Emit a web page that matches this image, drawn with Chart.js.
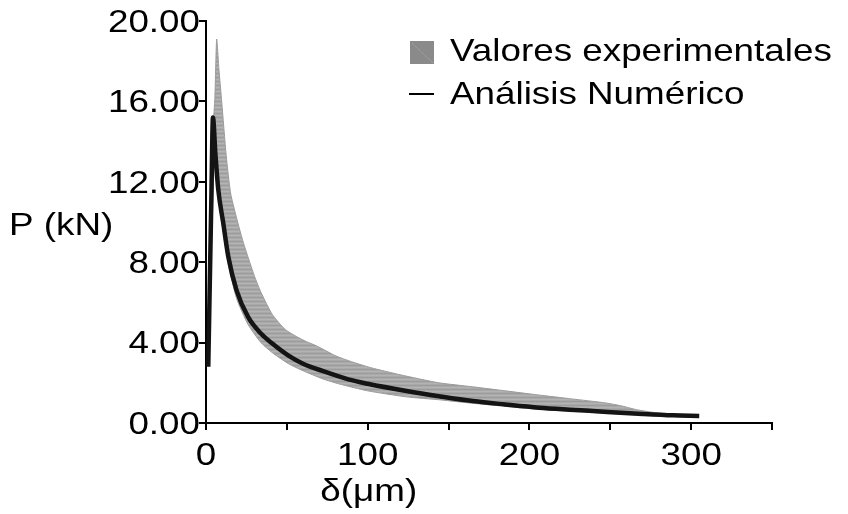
<!DOCTYPE html>
<html><head><meta charset="utf-8">
<script src="https://cdn.jsdelivr.net/npm/chart.js@4"></script>
<style>html,body{margin:0;padding:0;background:#fff;}#wrap{width:848px;height:514px;}</style>
</head><body><div id="wrap"><canvas id="c" width="848" height="514"></canvas></div>
<script>
// ---- data ----
const seriesNames = ['Valores experimentales', 'Análisis Numérico'];
const yTitle = 'P (kN)';
const xTitle = 'δ(μm)';
const yTickValues = [0, 4, 8, 12, 16, 20];
const xTickLabels = [0, 100, 200, 300];

// experimental envelope: rising (left) edge + upper edge
const expUpperX = [1.5, 3.2, 4.5, 5.5, 6.6, 8, 9.7, 12.5, 15.3, 19.9, 23, 26, 30, 34, 41, 49, 56, 62, 68, 80, 90, 102, 120, 144, 165, 185, 205, 226, 247, 257, 267, 288, 302];
const expUpperY = [4.0, 11.0, 14.8, 16.2, 19.1, 17.6, 16.0, 13.3, 11.4, 9.9, 9.0, 8.25, 7.3, 6.5, 5.4, 4.65, 4.3, 4.05, 3.85, 3.35, 3.05, 2.75, 2.4, 2.0, 1.8, 1.6, 1.4, 1.2, 1.0, 0.85, 0.65, 0.4, 0.3];
// experimental envelope: lower edge (right to left)
const expLowerX = [302, 250, 206, 165, 145, 124, 100, 82, 72, 60, 51, 41, 34, 26, 18.9, 13.8, 10.7, 7.6, 5.5];
const expLowerY = [0.27, 0.48, 0.68, 0.98, 1.15, 1.3, 1.6, 1.95, 2.2, 2.6, 2.95, 3.5, 4.0, 4.9, 6.2, 7.9, 9.5, 11.2, 13.3];

// numerical analysis curve
const numX = [1.4, 3.3, 4.3, 5.8, 7.6, 10.7, 13.8, 18.9, 26, 34, 41, 51, 60, 72, 88, 100, 124, 145, 165, 185, 206, 228, 248, 270, 289, 305];
const numY = [2.8, 11.1, 15.2, 13.4, 11.6, 9.93, 8.27, 6.6, 5.28, 4.45, 3.95, 3.35, 2.95, 2.59, 2.17, 1.95, 1.59, 1.32, 1.09, 0.92, 0.76, 0.65, 0.55, 0.45, 0.38, 0.35];

// ---- build ----
const bandPts = expUpperX.map((x, i) => ({x, y: expUpperY[i]}))
  .concat(expLowerX.map((x, i) => ({x, y: expLowerY[i]})));
const numPts = numX.map((x, i) => ({x, y: numY[i]}));

function makePattern() {
  const p = document.createElement('canvas');
  p.width = 8; p.height = 4;
  const g = p.getContext('2d');
  g.fillStyle = '#a9a9a9'; g.fillRect(0, 0, 8, 4);
  g.fillStyle = '#9c9c9c'; g.fillRect(0, 1, 8, 1);
  g.fillStyle = '#b3b3b3'; g.fillRect(0, 3, 8, 1);
  return document.getElementById('c').getContext('2d').createPattern(p, 'repeat');
}

const FONT = '32px "Liberation Sans", Arial, sans-serif';
const SX = 1.15;
function txt(ctx, s, x, y, align) {
  ctx.save();
  ctx.font = FONT; ctx.fillStyle = '#000';
  ctx.textBaseline = 'middle'; ctx.textAlign = 'left';
  const w = ctx.measureText(s).width * SX;
  const x0 = align === 'right' ? x - w : align === 'center' ? x - w / 2 : x;
  ctx.translate(x0, y); ctx.scale(SX, 1);
  ctx.fillText(s, 0, 0);
  ctx.restore();
}

const textPlugin = {
  id: 'texts',
  afterDraw(chart) {
    const ctx = chart.ctx;
    const xs = chart.scales.x, ys = chart.scales.y;
    yTickValues.forEach(v => txt(ctx, v.toFixed(2), xs.left - 6, ys.getPixelForValue(v) + 2, 'right'));
    xTickLabels.forEach(v => txt(ctx, String(v), xs.getPixelForValue(v), ys.bottom + 33, 'center'));
    txt(ctx, yTitle, 9, ys.getPixelForValue(9.8), 'left');
    txt(ctx, xTitle, xs.getPixelForValue(100) + 1, ys.bottom + 69, 'center');
    // legend
    const lx = 410;
    ctx.save();
    ctx.fillStyle = '#8a8a8a';
    ctx.fillRect(lx, 41, 24, 23);
    ctx.strokeStyle = '#b0b0b0'; ctx.lineWidth = 1;
    ctx.setLineDash([1, 1]);
    ctx.beginPath(); ctx.moveTo(lx + 2, 43); ctx.lineTo(lx + 23, 63); ctx.stroke();
    ctx.setLineDash([]);
    ctx.strokeStyle = '#000'; ctx.lineWidth = 2;
    ctx.beginPath(); ctx.moveTo(lx - 1, 94); ctx.lineTo(lx + 24, 94); ctx.stroke();
    ctx.restore();
    txt(ctx, seriesNames[0], 450, 52, 'left');
    txt(ctx, seriesNames[1], 450, 95, 'left');
  }
};

new Chart(document.getElementById('c'), {
  type: 'line',
  data: {
    datasets: [
      { label: seriesNames[1], data: numPts, borderColor: '#141414', borderWidth: 4.5,
        pointRadius: 0, cubicInterpolationMode: 'monotone', fill: false, order: 0 },
      { label: seriesNames[0], data: bandPts, borderColor: '#9a9a9a', borderWidth: 1,
        backgroundColor: makePattern(), pointRadius: 0, tension: 0.2, fill: 'shape', order: 1 }
    ]
  },
  options: {
    responsive: false, animation: false, devicePixelRatio: 1,
    layout: { padding: { left: 0, right: 76, top: 21, bottom: 0 } },
    plugins: { legend: { display: false }, tooltip: { enabled: false } },
    scales: {
      x: { type: 'linear', min: 0, max: 350,
        ticks: { stepSize: 50, display: false },
        grid: { drawOnChartArea: false, drawTicks: true, tickLength: 7, color: '#000', lineWidth: 2 },
        border: { display: true, color: '#000', width: 2 },
        afterFit(s) { s.height = 91; } },
      y: { type: 'linear', min: 0, max: 20,
        ticks: { stepSize: 4, display: false },
        grid: { drawOnChartArea: false, drawTicks: true, tickLength: 7, color: '#000', lineWidth: 2 },
        border: { display: true, color: '#000', width: 2 },
        afterFit(s) { s.width = 206; } }
    }
  },
  plugins: [textPlugin]
});
</script></body></html>
